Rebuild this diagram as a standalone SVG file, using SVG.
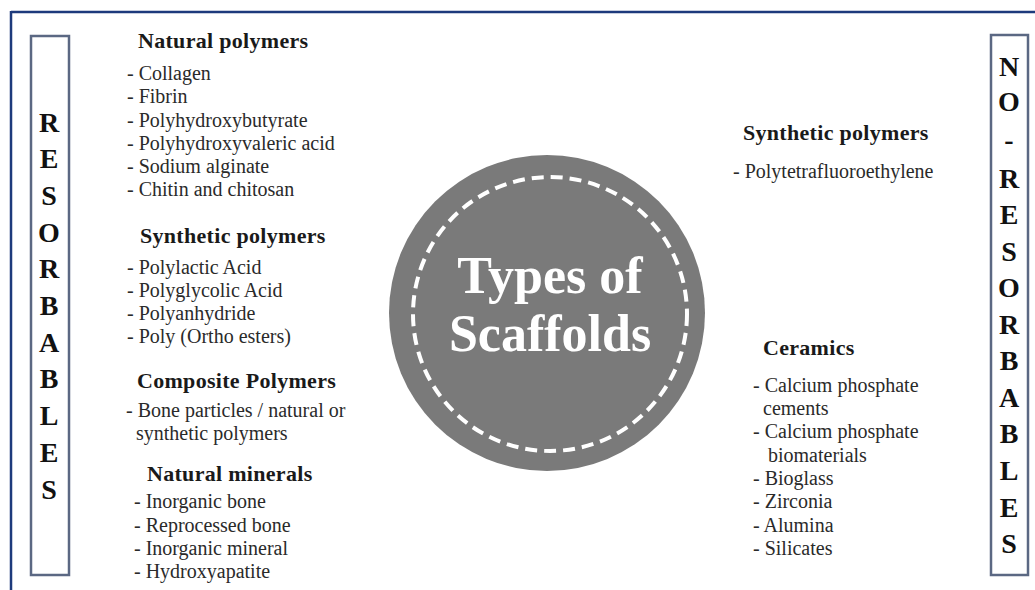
<svg xmlns="http://www.w3.org/2000/svg" width="1035" height="590" viewBox="0 0 1035 590">
<style>
.h{font-family:"Liberation Serif","Times New Roman",serif;font-weight:bold;font-size:22px;fill:#1a1a1a;letter-spacing:0.3px}
.i{font-family:"Liberation Serif","Times New Roman",serif;font-size:20px;fill:#2a2a2a}
.v{font-family:"Liberation Serif","Times New Roman",serif;font-weight:bold;font-size:28px;fill:#111;text-anchor:middle}
.box{fill:#fff;stroke:#5b6883;stroke-width:2.5}
.t{font-family:"Liberation Serif","Times New Roman",serif;font-weight:bold;font-size:52px;fill:#fff;text-anchor:middle}
</style>
<rect width="1035" height="590" fill="#fff"/>
<g id="frame">
<line x1="11" y1="12" x2="1035" y2="12" stroke="#1d3a7c" stroke-width="2.5"/>
<line x1="11" y1="11" x2="11" y2="590" stroke="#1d3a7c" stroke-width="2.5"/>
</g>
<g id="resorbables">
<rect class="box" x="31" y="36" width="38" height="539"/>
<text class="v" x="49" y="132">R</text>
<text class="v" x="49" y="168">E</text>
<text class="v" x="49" y="205">S</text>
<text class="v" x="49" y="242">O</text>
<text class="v" x="49" y="278">R</text>
<text class="v" x="49" y="315">B</text>
<text class="v" x="49" y="352">A</text>
<text class="v" x="49" y="388">B</text>
<text class="v" x="49" y="425">L</text>
<text class="v" x="49" y="462">E</text>
<text class="v" x="49" y="499">S</text>
</g>
<g id="no-resorbables">
<rect class="box" x="991" y="35" width="37" height="540"/>
<text class="v" x="1009" y="76">N</text>
<text class="v" x="1009" y="111">O</text>
<text class="v" x="1009" y="149">-</text>
<text class="v" x="1009" y="188">R</text>
<text class="v" x="1009" y="224">E</text>
<text class="v" x="1009" y="261">S</text>
<text class="v" x="1009" y="297">O</text>
<text class="v" x="1009" y="334">R</text>
<text class="v" x="1009" y="370">B</text>
<text class="v" x="1009" y="407">A</text>
<text class="v" x="1009" y="443">B</text>
<text class="v" x="1009" y="480">L</text>
<text class="v" x="1009" y="517">E</text>
<text class="v" x="1009" y="553">S</text>
</g>
<g id="center">
<circle cx="547" cy="313" r="158" fill="#7a7a7a"/>
<circle cx="550" cy="314" r="137" fill="none" stroke="#fff" stroke-width="4" stroke-dasharray="12 7"/>
<text class="t" x="550" y="293">Types of</text>
<text class="t" x="550" y="351">Scaffolds</text>
</g>
<g id="natural-polymers">
<text class="h" x="138" y="48">Natural polymers</text>
<text class="i" x="127" y="80">- Collagen</text>
<text class="i" x="127" y="103">- Fibrin</text>
<text class="i" x="127" y="127">- Polyhydroxybutyrate</text>
<text class="i" x="127" y="150">- Polyhydroxyvaleric acid</text>
<text class="i" x="127" y="173">- Sodium alginate</text>
<text class="i" x="127" y="196">- Chitin and chitosan</text>
</g>
<g id="synthetic-polymers-left">
<text class="h" x="140" y="243">Synthetic polymers</text>
<text class="i" x="127" y="274">- Polylactic Acid</text>
<text class="i" x="127" y="297">- Polyglycolic Acid</text>
<text class="i" x="127" y="320">- Polyanhydride</text>
<text class="i" x="127" y="343">- Poly (Ortho esters)</text>
</g>
<g id="composite-polymers">
<text class="h" x="137" y="388">Composite Polymers</text>
<text class="i" x="126" y="417">- Bone particles / natural or</text>
<text class="i" x="136" y="440">synthetic polymers</text>
</g>
<g id="natural-minerals">
<text class="h" x="147" y="481">Natural minerals</text>
<text class="i" x="134" y="508">- Inorganic bone</text>
<text class="i" x="134" y="532">- Reprocessed bone</text>
<text class="i" x="134" y="555">- Inorganic mineral</text>
<text class="i" x="134" y="578">- Hydroxyapatite</text>
</g>
<g id="synthetic-polymers-right">
<text class="h" x="743" y="140">Synthetic polymers</text>
<text class="i" x="733" y="178">- Polytetrafluoroethylene</text>
</g>
<g id="ceramics">
<text class="h" x="763" y="355">Ceramics</text>
<text class="i" x="753" y="392">- Calcium phosphate</text>
<text class="i" x="763" y="415">cements</text>
<text class="i" x="753" y="438">- Calcium phosphate</text>
<text class="i" x="768" y="462">biomaterials</text>
<text class="i" x="753" y="485">- Bioglass</text>
<text class="i" x="753" y="508">- Zirconia</text>
<text class="i" x="753" y="532">- Alumina</text>
<text class="i" x="753" y="555">- Silicates</text>
</g>
</svg>
